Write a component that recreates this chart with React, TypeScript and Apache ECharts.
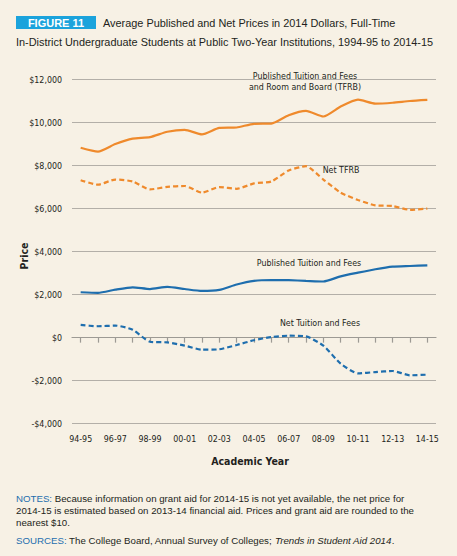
import React, { useEffect, useRef } from "react";
import * as echarts from "echarts";

const years = [
  "94-95", "95-96", "96-97", "97-98", "98-99", "99-00", "00-01", "01-02", "02-03", "03-04",
  "04-05", "05-06", "06-07", "07-08", "08-09", "09-10", "10-11", "11-12", "12-13", "13-14", "14-15",
];
const publishedTFRB = [8830, 8650, 9000, 9250, 9320, 9570, 9660, 9450, 9750, 9770, 9940, 9950, 10340, 10540, 10280, 10740, 11060, 10880, 10920, 11000, 11050];
const netTFRB = [7320, 7110, 7350, 7260, 6890, 7010, 7050, 6740, 7000, 6920, 7170, 7260, 7770, 7970, 7350, 6740, 6400, 6150, 6120, 5940, 6000];
const publishedTF = [2110, 2080, 2230, 2340, 2260, 2360, 2260, 2170, 2220, 2470, 2640, 2680, 2670, 2640, 2610, 2850, 3020, 3180, 3300, 3330, 3360];
const netTF = [590, 530, 560, 370, -190, -220, -370, -560, -540, -340, -120, 30, 90, 60, -370, -1210, -1660, -1600, -1550, -1750, -1720];

const Y_MIN = -4000;
const Y_MAX = 12000;
const Y_STEP = 2000;

const BG = "#f7f1e5";
const ORANGE = "#ef8a2c";
const BLUE = "#1e6eae";
const CYAN = "#1ba3dc";
const TEXT = "#231f20";
const GRID = "#b3afa8";
const NARROW = '"Liberation Sans Narrow", "DejaVu Sans Condensed", "Roboto", sans-serif';
const SANS = '"Liberation Sans", Arial, "Helvetica", sans-serif';

function fmt(v: number): string {
  const s = "$" + Math.abs(v).toLocaleString("en-US");
  return v < 0 ? "-" + s : s;
}

export default function App() {
  const ref = useRef<HTMLDivElement>(null);

  useEffect(() => {
    document.body.style.margin = "0";
    document.body.style.background = BG;
    if (!ref.current) return;
    const chart = echarts.init(ref.current, undefined, { renderer: "svg" });
    const noteStyle = { fill: TEXT, font: `9.7px ${SANS}` };
    chart.setOption({
      animation: false,
      backgroundColor: BG,
      grid: { left: 72, right: 21, top: 79.5, bottom: 132.3, containLabel: false },
      xAxis: {
        type: "category",
        data: years,
        boundaryGap: true,
        axisLine: { show: true, lineStyle: { color: "#9d9a94", width: 1.2 } },
        axisTick: { show: true, interval: 0, alignWithLabel: true, length: 5, lineStyle: { color: "#9d9a94", width: 1.2 } },
        axisLabel: { interval: 1, margin: 11, color: TEXT, fontFamily: NARROW, fontSize: 8.8 },
        splitLine: { show: false },
      },
      yAxis: {
        type: "value",
        min: Y_MIN,
        max: Y_MAX,
        interval: Y_STEP,
        axisLine: { show: false },
        axisTick: { show: false },
        axisLabel: { formatter: fmt, margin: 10, color: TEXT, fontFamily: NARROW, fontSize: 8.8 },
        splitLine: { show: true, lineStyle: { color: GRID, width: 1.2 } },
      },
      series: [
        {
          name: "Published TFRB",
          type: "line",
          data: publishedTFRB,
          smooth: 0.2,
          symbol: "none",
          lineStyle: { color: ORANGE, width: 2.2 },
        },
        {
          name: "Net TFRB",
          type: "line",
          data: netTFRB,
          smooth: 0.2,
          symbol: "none",
          lineStyle: { color: ORANGE, width: 2.2, type: [5, 3] },
        },
        {
          name: "Published Tuition and Fees",
          type: "line",
          data: publishedTF,
          smooth: 0.2,
          symbol: "none",
          lineStyle: { color: BLUE, width: 2.2 },
        },
        {
          name: "Net Tuition and Fees",
          type: "line",
          data: netTF,
          smooth: 0.2,
          symbol: "none",
          lineStyle: { color: BLUE, width: 2.2, type: [5, 3] },
        },
      ],
      graphic: [
        { type: "rect", shape: { x: 16, y: 16, width: 80, height: 13 }, style: { fill: CYAN } },
        {
          type: "text",
          style: { text: "FIGURE 11", x: 56, y: 22.8, align: "center", verticalAlign: "middle", fill: "#ffffff", font: `bold 11px ${SANS}` },
        },
        {
          type: "text",
          style: { text: "Average Published and Net Prices in 2014 Dollars, Full-Time", x: 103, y: 22.8, verticalAlign: "middle", fill: TEXT, font: `10.9px ${SANS}` },
        },
        {
          type: "text",
          style: { text: "In-District Undergraduate Students at Public Two-Year Institutions, 1994-95 to 2014-15", x: 16, y: 41.5, verticalAlign: "middle", fill: TEXT, font: `10.9px ${SANS}` },
        },
        {
          type: "text",
          style: {
            text: "Published Tuition and Fees\nand Room and Board (TFRB)",
            x: 305, y: 81, align: "center", verticalAlign: "middle", fill: TEXT,
            font: `8.8px ${NARROW}`, lineHeight: 11, backgroundColor: BG, padding: [0, 4, 0, 4],
          },
        },
        {
          type: "text",
          style: { text: "Net TFRB", x: 341, y: 170, align: "center", verticalAlign: "middle", fill: TEXT, font: `8.8px ${NARROW}` },
        },
        {
          type: "text",
          style: { text: "Published Tuition and Fees", x: 309, y: 262.7, align: "center", verticalAlign: "middle", fill: TEXT, font: `8.8px ${NARROW}` },
        },
        {
          type: "text",
          style: { text: "Net Tuition and Fees", x: 320, y: 322.7, align: "center", verticalAlign: "middle", fill: TEXT, font: `8.8px ${NARROW}` },
        },
        {
          type: "text",
          rotation: Math.PI / 2,
          x: 24, y: 256,
          style: { text: "Price", x: 0, y: 0, align: "center", verticalAlign: "middle", fill: TEXT, font: `bold 10.5px ${NARROW}` },
        },
        {
          type: "text",
          style: { text: "Academic Year", x: 250, y: 461, align: "center", verticalAlign: "middle", fill: TEXT, font: `bold 10.5px ${NARROW}` },
        },
        {
          type: "text",
          style: {
            text: "{n|NOTES:} Because information on grant aid for 2014-15 is not yet available, the net price for\n2014-15 is estimated based on 2013-14 financial aid. Prices and grant aid are rounded to the\nnearest $10.",
            x: 16, y: 492, verticalAlign: "top", lineHeight: 12, ...noteStyle,
            rich: { n: { fill: BLUE, font: `9.7px ${SANS}`, lineHeight: 12 } },
          },
        },
        {
          type: "text",
          style: {
            text: "{n|SOURCES:} The College Board, Annual Survey of Colleges; {i|Trends in Student Aid 2014}.",
            x: 16, y: 534, verticalAlign: "top", lineHeight: 12, ...noteStyle,
            rich: {
              n: { fill: BLUE, font: `9.7px ${SANS}`, lineHeight: 12 },
              i: { fill: TEXT, font: `italic 9.7px ${SANS}`, lineHeight: 12 },
            },
          },
        },
      ],
    });
    return () => chart.dispose();
  }, []);

  return <div ref={ref} style={{ width: 457, height: 556, background: BG }} />;
}
